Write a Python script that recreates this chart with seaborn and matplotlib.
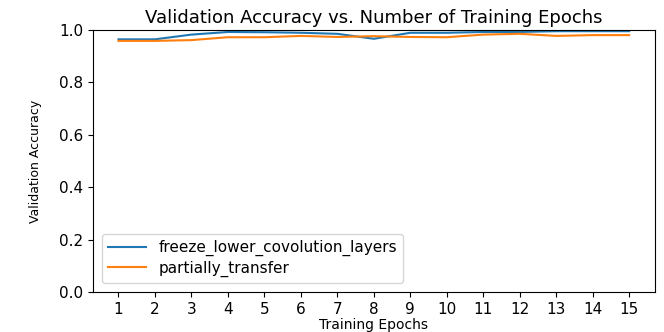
# Import Libraries
import matplotlib
matplotlib.use('Agg')
import matplotlib.pyplot as plt
import seaborn as sns
import pandas as pd

# Data
epochs = list(range(1, 16))
freeze_lower = [0.964, 0.964, 0.982, 0.992, 0.991, 0.989, 0.985, 0.966,
                0.989, 0.989, 0.992, 0.992, 0.995, 0.995, 0.995]
partially_transfer = [0.958, 0.958, 0.961, 0.972, 0.972, 0.977, 0.973, 0.976,
                      0.973, 0.972, 0.982, 0.985, 0.977, 0.980, 0.980]
series_names = ['freeze_lower_covolution_layers', 'partially_transfer']

df = pd.DataFrame({
    'epoch': epochs * 2,
    'acc': freeze_lower + partially_transfer,
    'model': [series_names[0]] * len(epochs) + [series_names[1]] * len(epochs),
})

fig = plt.figure(figsize=(6.64, 3.32), dpi=100)
ax = fig.add_axes([0.14, 0.12, 0.846, 0.79])
g = sns.lineplot(data=df, x='epoch', y='acc', hue='model',
                 palette=['#1f77b4', '#ff7f0e'], linewidth=1.5, ax=ax)

plt.title('Validation Accuracy vs. Number of Training Epochs', fontsize=13, pad=5)
plt.xlabel('Training Epochs', fontsize=10, labelpad=1)
plt.ylabel('Validation Accuracy', fontsize=9, labelpad=12)
plt.ylim(0, 1.0)
plt.xticks(epochs, fontsize=11)
plt.yticks([0.0, 0.2, 0.4, 0.6, 0.8, 1.0], fontsize=11)
ax.xaxis.set_major_formatter(matplotlib.ticker.FormatStrFormatter('%d'))
ax.yaxis.set_major_formatter(matplotlib.ticker.FormatStrFormatter('%.1f'))
plt.legend(loc='lower left', fontsize=11, title=None, handlelength=2.5,
           borderaxespad=0.6, labelspacing=0.3)

plt.savefig('out.png', dpi=100)
